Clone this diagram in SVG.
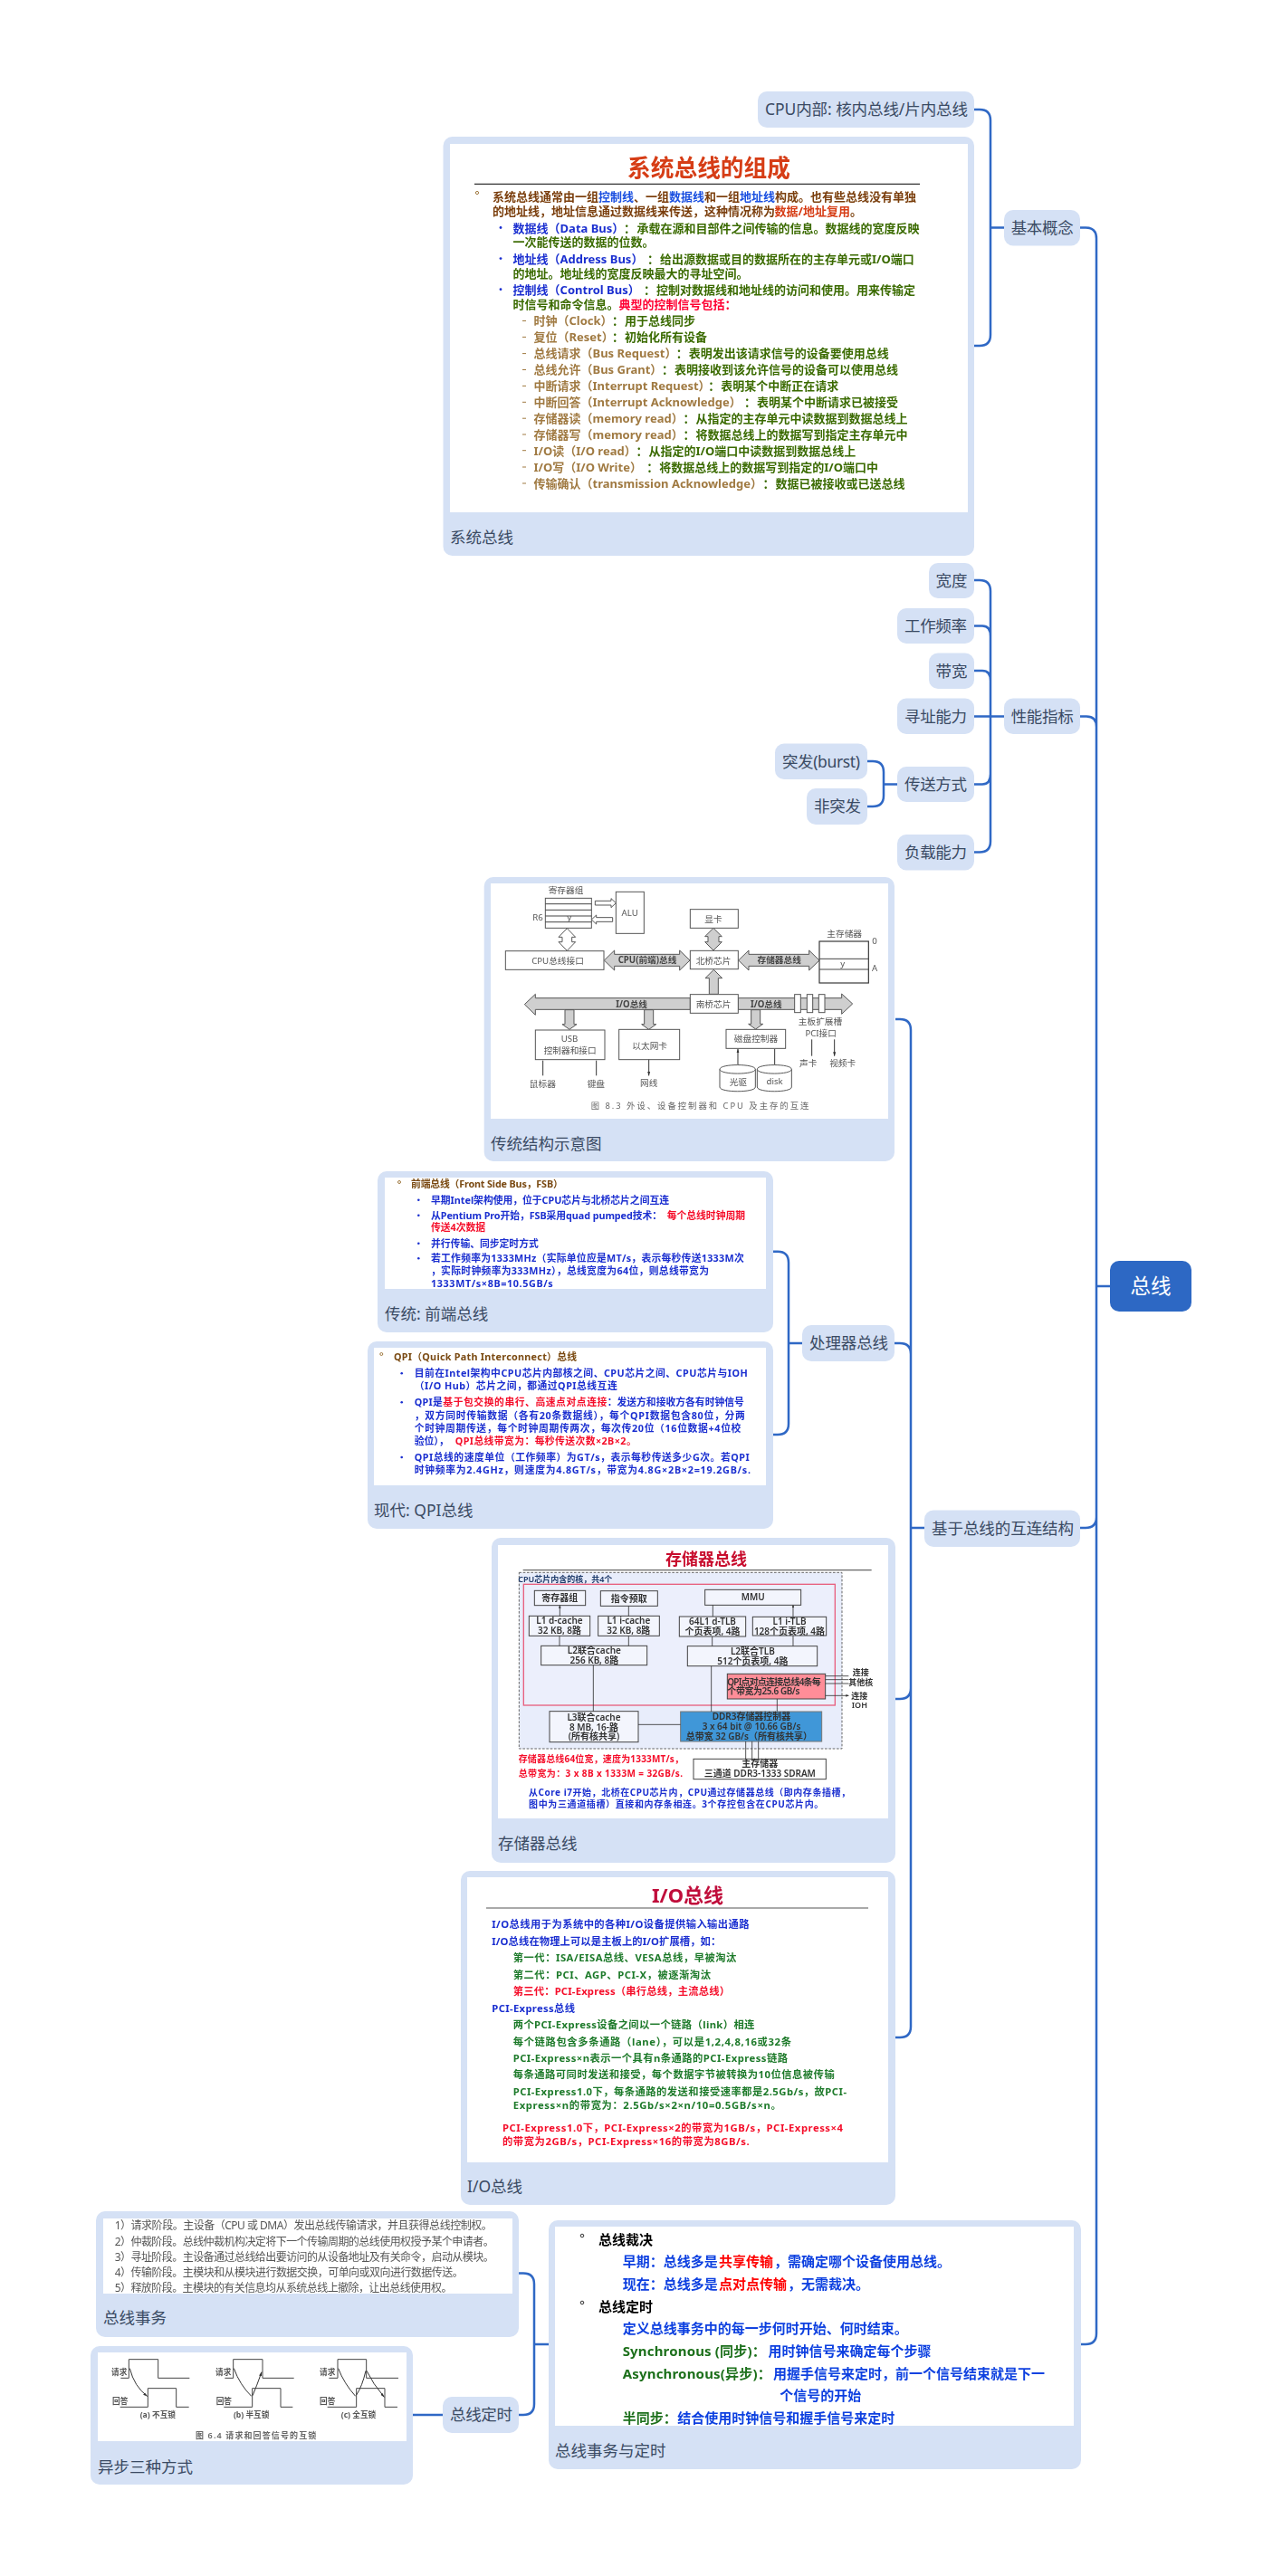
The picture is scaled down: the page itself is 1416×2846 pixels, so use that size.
<svg xmlns="http://www.w3.org/2000/svg" width="1416" height="2846" viewBox="0 0 1416 2846">
<style>
text{font-family:"Noto Sans","Noto Sans CJK SC",sans-serif}
.n{fill:#d5e1f5}
.w{fill:#fff}
.lb{font-size:17.5px;fill:#3a4a63}
.c{fill:none;stroke:#2f68c5;stroke-width:2.5}
.b{font-weight:700}
.s13{font-size:13px;font-weight:700}
.s11{font-size:10.8px;font-weight:700}
.s114{font-size:11.3px;font-weight:700}
.s15{font-size:15px;font-weight:700}
.br{fill:#7a3e0a}.bl{fill:#1a2fd0}.gr{fill:#3a6b00}.tn{fill:#a07a42}.rd{fill:#f5102a}.or{fill:#d63c14}
.ig{fill:#1f7a2a}.ib{fill:#0b3fe0}.ik{fill:#1c6f1a}
.f{fill:#f3f5fd;stroke:#444;stroke-width:3}
.m{font-size:30px;text-anchor:middle;fill:#333;font-weight:600}
.a{stroke:#333;stroke-width:2.5;fill:none;marker-start:url(#ah);marker-end:url(#ah)}
.e{stroke:#333;stroke-width:2.5;fill:none;marker-end:url(#ah)}
.h{fill:#cfcfcf;stroke:#555;stroke-width:3}
.o{fill:#fff;stroke:#555;stroke-width:3}
.p{font-size:29px;text-anchor:middle;fill:#555}
.pb{font-size:29px;text-anchor:middle;fill:#444;font-weight:700}
.ta{fill:#fff;stroke:#555;stroke-width:3}
.d{fill:none;stroke:#444;stroke-width:3}
.dh{fill:none;stroke:#333;stroke-width:3;marker-end:url(#ah2)}
.ds{stroke:#333;stroke-width:3;fill:none;marker-start:url(#ah2);marker-end:url(#ah2)}
.q{font-size:26px;text-anchor:middle;fill:#555;font-weight:700}
.tx{font-size:12px;fill:#555}
</style>
<defs>
<filter id="soft" x="-2%" y="-2%" width="104%" height="104%"><feGaussianBlur stdDeviation="0.3"/></filter>
<marker id="ah" viewBox="0 0 10 10" refX="9" refY="5" markerWidth="4" markerHeight="4" orient="auto-start-reverse"><path d="M0 1L10 5L0 9Z" fill="#333"/></marker>
<marker id="ah2" viewBox="0 0 10 10" refX="9" refY="5" markerWidth="5" markerHeight="5" orient="auto-start-reverse"><path d="M0 2L10 5L0 8Z" fill="#333"/></marker>
</defs>
<rect width="1416" height="2846" fill="#fff"/>

<g id="connectors">
<path class="c" d="M1076 121H1082Q1094 121 1094 133V370Q1094 382 1082 382H1076M1094 251.5H1109"/>
<path class="c" d="M1076 641H1082Q1094 641 1094 653V929.5Q1094 941.5 1082 941.5H1076M1076 691.5H1085Q1094 691.5 1094 703M1076 741H1085Q1094 741 1094 752M1076 791.5H1109M1076 866.5H1085Q1094 866.5 1094 855"/>
<path class="c" d="M958 841H964Q976 841 976 853V879Q976 891 964 891H958M976 866.5H991"/>
<path class="c" d="M1193 251.5H1199Q1211 251.5 1211 263.5V2578Q1211 2590 1199 2590H1193M1193 791.5H1200Q1211 791.5 1211 803M1193 1688H1199Q1211 1688 1211 1676M1211 1421H1226"/>
<path class="c" d="M989 1126H994Q1006 1126 1006 1138V2239Q1006 2251 994 2251H989M988 1484H994Q1006 1484 1006 1496M989 1877H994Q1006 1877 1006 1865M1006 1688H1021"/>
<path class="c" d="M854 1382.7H859Q871 1382.7 871 1395V1573Q871 1585 859 1585H854M871 1484H886"/>
<path class="c" d="M573 2511.5H578Q590 2511.5 590 2523.5V2656Q590 2668 578 2668H573M590 2590H606M456 2668H489"/>
</g>

<g id="node-root"><rect x="1226" y="1393" width="90" height="56" rx="10" fill="#2d68c4"/><text x="1271" y="1429" font-size="22.5" fill="#fff" text-anchor="middle">总线</text></g>

<g id="node-basic"><rect class="n" x="1109" y="232" width="84" height="39.5" rx="10"/><text class="lb" x="1116.7" y="258" textLength="69">基本概念</text></g>
<g id="node-cpu"><rect class="n" x="837" y="101" width="239" height="40" rx="10"/><text class="lb" x="845" y="127" textLength="224">CPU内部: 核内总线/片内总线</text></g>

<g id="node-sysbus">
<rect class="n" x="489.5" y="151" width="586.5" height="463" rx="10"/><rect class="w" x="497" y="159" width="572" height="407"/>
<text class="lb" x="497" y="600">系统总线</text>
<g filter="url(#soft)">
<text x="783" y="195" font-size="25.7" font-weight="700" text-anchor="middle" class="or">系统总线的组成</text>
<path d="M524 203.3H1016" stroke="#333" stroke-width="1.2"/>
<circle cx="527" cy="213" r="1.6" fill="none" stroke="#a07a42"/>
<g fill="#1a2fd0"><circle cx="553" cy="251.5" r="1.4"/><circle cx="553" cy="285.6" r="1.4"/><circle cx="553" cy="319.7" r="1.4"/></g>
<path d="M577 354.5h4M577 372.4h4M577 390.6h4M577 408.5h4M577 426.4h4M577 444.3h4M577 462.2h4M577 480h4M577 497.7h4M577 516h4M577 534h4" stroke="#a07a42" stroke-width="1"/>
<text class="s13 br" x="544" y="221.5">系统总线通常由一组<tspan class="bl" style="fill:#1a4fe0">控制线</tspan>、一组<tspan style="fill:#1a4fe0">数据线</tspan>和一组<tspan style="fill:#1a4fe0">地址线</tspan>构成。也有些总线没有单独</text>
<text class="s13 br" x="544" y="238">的地址线，地址信息通过数据线来传送，这种情况称为<tspan class="or" x="855.6">数据/地址复用</tspan>。</text>
<text class="s13 bl" x="566.6" y="256.5">数据线（Data Bus）<tspan class="gr" x="689">：</tspan><tspan class="gr" x="703.4">承载在源和目部件之间传输的信息。数据线的宽度反映</tspan></text>
<text class="s13 gr" x="566.6" y="272">一次能传送的数据的位数。</text>
<text class="s13 bl" x="566.6" y="290.5">地址线（Address Bus）<tspan class="gr" x="715">：</tspan><tspan class="gr" x="729">给出源数据或目的数据所在的主存单元或I/O端口</tspan></text>
<text class="s13 gr" x="566.6" y="307">的地址。地址线的宽度反映最大的寻址空间。</text>
<text class="s13 bl" x="566.6" y="324.5">控制线（Control Bus）<tspan class="gr" x="711">：</tspan><tspan class="gr" x="725">控制对数据线和地址线的访问和使用。用来传输定</tspan></text>
<text class="s13 gr" x="566.6" y="341">时信号和命令信息。<tspan style="fill:#ff0033" x="683.6">典型的控制信号包括：</tspan></text>
<g class="s13">
<text class="tn" x="589.5" y="359">时钟（Clock）<tspan class="gr" x="676">：</tspan><tspan class="gr" x="690">用于总线同步</tspan></text>
<text class="tn" x="589.5" y="377">复位（Reset）<tspan class="gr" x="676">：</tspan><tspan class="gr" x="690">初始化所有设备</tspan></text>
<text class="tn" x="589.5" y="395">总线请求（Bus Request）<tspan class="gr" x="746.7">：</tspan><tspan class="gr" x="760.7">表明发出该请求信号的设备要使用总线</tspan></text>
<text class="tn" x="589.5" y="413">总线允许（Bus Grant）<tspan class="gr" x="731">：</tspan><tspan class="gr" x="745">表明接收到该允许信号的设备可以使用总线</tspan></text>
<text class="tn" x="589.5" y="431">中断请求（Interrupt Request）<tspan class="gr" x="782.3">：</tspan><tspan class="gr" x="796.3">表明某个中断正在请求</tspan></text>
<text class="tn" x="589.5" y="449">中断回答（Interrupt Acknowledge）<tspan class="gr" x="822">：</tspan><tspan class="gr" x="836">表明某个中断请求已被接受</tspan></text>
<text class="tn" x="589.5" y="467">存储器读（memory read）<tspan class="gr" x="754.6">：</tspan><tspan class="gr" x="768.6">从指定的主存单元中读数据到数据总线上</tspan></text>
<text class="tn" x="589.5" y="485">存储器写（memory read）<tspan class="gr" x="754.6">：</tspan><tspan class="gr" x="768.6">将数据总线上的数据写到指定主存单元中</tspan></text>
<text class="tn" x="589.5" y="502.5">I/O读（I/O read）<tspan class="gr" x="702.5">：</tspan><tspan class="gr" x="716.5">从指定的I/O端口中读数据到数据总线上</tspan></text>
<text class="tn" x="589.5" y="520.5">I/O写（I/O Write）<tspan class="gr" x="714.3">：</tspan><tspan class="gr" x="728.3">将数据总线上的数据写到指定的I/O端口中</tspan></text>
<text class="tn" x="589.5" y="538.5">传输确认（transmission Acknowledge）<tspan class="gr" x="842.4">：</tspan><tspan class="gr" x="856.4">数据已被接收或已送总线</tspan></text>
</g>
</g>
</g>

<g id="node-perf"><rect class="n" x="1109" y="771.5" width="84" height="39.5" rx="10"/><text class="lb" x="1116.7" y="797.5" textLength="69">性能指标</text></g>
<g id="node-width"><rect class="n" x="1026" y="622" width="50" height="39" rx="10"/><text class="lb" x="1033.5" y="647.5" textLength="35">宽度</text></g>
<g id="node-freq"><rect class="n" x="991" y="672" width="85" height="39" rx="10"/><text class="lb" x="999" y="697.5" textLength="69">工作频率</text></g>
<g id="node-band"><rect class="n" x="1026" y="721.5" width="50" height="39.5" rx="10"/><text class="lb" x="1033.5" y="747.5" textLength="35">带宽</text></g>
<g id="node-addr"><rect class="n" x="991" y="771.5" width="85" height="39.5" rx="10"/><text class="lb" x="999" y="797.5" textLength="69">寻址能力</text></g>
<g id="node-mode"><rect class="n" x="991" y="847" width="85" height="39" rx="10"/><text class="lb" x="999" y="872.5" textLength="69">传送方式</text></g>
<g id="node-load"><rect class="n" x="991" y="922" width="85" height="39.5" rx="10"/><text class="lb" x="999" y="948" textLength="69">负载能力</text></g>
<g id="node-burst"><rect class="n" x="856" y="821.5" width="102" height="39.5" rx="10"/><text class="lb" x="864" y="847.5" textLength="86">突发(burst)</text></g>
<g id="node-nonburst"><rect class="n" x="891" y="871" width="67" height="40" rx="10"/><text class="lb" x="899" y="897" textLength="52">非突发</text></g>

<g id="node-interconnect"><rect class="n" x="1021" y="1668.5" width="172" height="40.5" rx="10"/><text class="lb" x="1029" y="1694.5" textLength="157">基于总线的互连结构</text></g>
<g id="node-proc"><rect class="n" x="886" y="1464" width="102" height="40" rx="10"/><text class="lb" x="894" y="1490" textLength="87">处理器总线</text></g>

<g id="node-traditional">
<rect class="n" x="534.7" y="969" width="453.3" height="314" rx="10"/><rect class="w" x="542" y="976" width="439" height="260"/>
<text class="lb" x="542" y="1270">传统结构示意图</text>
<g transform="translate(520 960) scale(.33333)" filter="url(#soft)">
<rect class="o" x="247" y="97" width="153" height="99"/><path class="d" d="M247 116H400M247 136H400M247 156H400M247 176H400"/>
<text class="p" x="315" y="82" font-size="28">寄存器组</text><text class="p" x="222" y="172">R6</text><text class="p" x="326" y="172">y</text>
<rect class="o" x="481" y="76" width="93" height="138"/><text class="p" x="527" y="155">ALU</text>
<path class="o" d="M412 106H465V98L481 113L465 128V120H412ZM470 161H416V153L400 168L416 183V175H470Z"/>
<path class="o" d="M319 197L347 226H335V242H347L319 271L291 242H303V226H291Z"/>
<rect class="o" x="115" y="272" width="326" height="62"/><text class="p" x="288" y="314">CPU总线接口</text>
<path class="h" d="M442 303L476 270V283H692V270L726 303L692 336V322H476V336Z"/><text class="pb" x="585" y="313">CPU(前端)总线</text>
<rect class="o" x="727" y="271" width="159" height="61"/><text class="p" x="804" y="314">北桥芯片</text>
<rect class="o" x="727" y="134" width="159" height="62"/><text class="p" x="804" y="178">显卡</text>
<path class="h" d="M804 196L832 224H822V242H832L804 270L776 242H786V224H776Z"/>
<path class="h" d="M887 303L921 270V283H1121V270L1155 303L1121 336V322H921V336Z"/><text class="pb" x="1022" y="313">存储器总线</text>
<text class="p" x="1238" y="226" font-size="28">主存储器</text>
<rect x="1155" y="240" width="163" height="138" fill="#fff" stroke="#333" stroke-width="3.5"/><path class="d" d="M1155 298H1318M1155 333H1318"/>
<text class="p" x="1232" y="325">y</text><text class="p" x="1338" y="250">0</text><text class="p" x="1338" y="338">A</text>
<path class="h" d="M805 334L833 362H820V415H790V362H777Z"/>
<path class="h" d="M178 449L214 415V428H727V466H214V484ZM886 428H1229V414L1265 447L1229 481V466H886Z"/>
<rect class="o" x="727" y="416" width="159" height="62"/><text class="p" x="804" y="458">南桥芯片</text>
<text class="pb" x="533" y="458">I/O总线</text><text class="pb" x="979" y="458">I/O总线</text>
<rect class="o" x="1073" y="416" width="20" height="60"/><rect class="o" x="1114" y="416" width="19" height="60"/><rect class="o" x="1153" y="416" width="20" height="60"/>
<path class="h" d="M312 467H342V515H351L327 532L303 515H312ZM575 467H605V515H614L590 532L566 515H575ZM929 467H959V514H968L944 531L920 514H929Z"/>
<rect class="o" x="214" y="534" width="230" height="98"/><text class="p" x="327" y="574">USB</text><text class="p" x="329" y="612">控制器和接口</text>
<rect class="o" x="491" y="532" width="201" height="100"/><text class="p" x="593" y="597">以太网卡</text>
<rect class="o" x="846" y="532" width="197" height="63"/><text class="p" x="945" y="574">磁盘控制器</text>
<path class="dh" d="M239 685V635M416 685V635M590 632V685"/>
<path class="ds" d="M885 597V650M1007 597V650M1130 565V620M1205 565V620"/>
<text class="p" x="238" y="722">鼠标器</text><text class="p" x="415" y="722">键盘</text><text class="p" x="590" y="720">网线</text>
<path class="o" d="M825 664V723C825 742 943 742 943 723V664C943 645 825 645 825 664C825 683 943 683 943 664"/>
<path class="o" d="M949 664V723C949 742 1063 742 1063 723V664C1063 645 949 645 949 664C949 683 1063 683 1063 664"/>
<text class="p" x="886" y="716">光驱</text><text class="p" x="1007" y="714">disk</text>
<text class="p" x="1158" y="516">主板扩展槽</text><text class="p" x="1160" y="556">PCI接口</text><text class="p" x="1118" y="654">声卡</text><text class="p" x="1232" y="654">视频卡</text>
<text x="398" y="796" font-size="28" fill="#666" textLength="722">图 8.3   外设、设备控制器和 CPU 及主存的互连</text>
</g>
</g>

<g id="node-fsb">
<rect class="n" x="417" y="1294" width="437" height="178" rx="10"/><rect class="w" x="425" y="1301" width="421" height="123"/>
<text class="lb" x="425" y="1458">传统: 前端总线</text>
<g filter="url(#soft)">
<circle cx="441" cy="1306" r="1.5" fill="none" stroke="#a07a42"/>
<g fill="#1a2fd0"><circle cx="462.3" cy="1325.7" r="1.3"/><circle cx="462.3" cy="1342.7" r="1.3"/><circle cx="462.3" cy="1373.7" r="1.3"/><circle cx="462.3" cy="1390.3" r="1.3"/></g>
<text class="s11" x="454" y="1312" fill="#7a4a12" textLength="167.7">前端总线（Front Side Bus，FSB）</text>
<g class="s11 bl">
<text x="476" y="1329.5" textLength="263">早期Intel架构使用，位于CPU芯片与北桥芯片之间互连</text>
<text x="476" y="1346.5" textLength="255">从Pentium Pro开始，FSB采用quad pumped技术：</text>
<text class="rd" x="736.7" y="1346.5">每个总线时钟周期</text>
<text class="rd" x="476" y="1360">传送4次数据</text>
<text x="476" y="1377.5">并行传输、同步定时方式</text>
<text x="476" y="1394" textLength="345.7">若工作频率为1333MHz（实际单位应是MT/s，表示每秒传送1333M次</text>
<text x="476" y="1408" textLength="307">，实际时钟频率为333MHz），总线宽度为64位，则总线带宽为</text>
<text x="476" y="1421.5" textLength="134.7">1333MT/s×8B=10.5GB/s</text>
</g>
</g>
</g>

<g id="node-qpi">
<rect class="n" x="406" y="1482" width="448" height="207" rx="10"/><rect class="w" x="413" y="1489" width="433" height="152"/>
<text class="lb" x="413" y="1675">现代: QPI总线</text>
<g filter="url(#soft)">
<circle cx="421.3" cy="1496" r="1.5" fill="none" stroke="#a07a42"/>
<g fill="#1a2fd0"><circle cx="443.7" cy="1517.3" r="1.3"/><circle cx="443.7" cy="1549.3" r="1.3"/><circle cx="443.7" cy="1610" r="1.3"/></g>
<text class="s11" x="435" y="1503" fill="#7a4a12" textLength="202">QPI（Quick Path Interconnect）总线</text>
<g class="s11 bl">
<text x="457.7" y="1521" textLength="368">目前在Intel架构中CPU芯片内部核之间、CPU芯片之间、CPU芯片与IOH</text>
<text x="457.7" y="1535" textLength="224">（I/O Hub）芯片之间，都通过QPI总线互连</text>
<text x="457.7" y="1553" textLength="31">QPI是</text><text class="rd" x="489.3" y="1553" textLength="181">基于包交换的串行、高速点对点连接</text><text x="670.7" y="1553">：发送方和接收方各有时钟信号</text>
<text x="457.7" y="1567.5" textLength="365">，双方同时传输数据（各有20条数据线），每个QPI数据包含80位，分两</text>
<text x="457.7" y="1581.5" textLength="360.7">个时钟周期传送，每个时钟周期传两次，每次传20位（16位数据+4位校</text>
<text x="457.7" y="1596">验位），</text><text class="rd" x="502.7" y="1596" textLength="200">QPI总线带宽为：每秒传送次数×2B×2。</text>
<text x="457.7" y="1614" textLength="370">QPI总线的速度单位（工作频率）为GT/s，表示每秒传送多少G次。若QPI</text>
<text x="457.7" y="1628" textLength="371.3">时钟频率为2.4GHz，则速度为4.8GT/s，带宽为4.8G×2B×2=19.2GB/s.</text>
</g>
</g>
</g>

<g id="node-membus">
<rect class="n" x="543" y="1699" width="446" height="359" rx="10"/><rect class="w" x="550" y="1707" width="431" height="302"/>
<text class="lb" x="550" y="2043">存储器总线</text>
<g transform="translate(540 1690) scale(.33333)" filter="url(#soft)">
<text x="720" y="117" font-size="54" font-weight="700" text-anchor="middle" fill="#c8102e">存储器总线</text>
<path d="M113 134H1268" stroke="#666" stroke-width="4"/>
<rect x="100" y="142" width="1070" height="584" fill="#e8edfb" stroke="#666" stroke-width="3" stroke-dasharray="8 5"/>
<text x="97" y="175" font-size="27" font-weight="600" fill="#1f3a6a">CPU芯片内含的核，共4个</text>
<rect x="115" y="181" width="1032" height="401" fill="#eceffc" stroke="#e8607f" stroke-width="4"/>
<rect class="f" x="151" y="202" width="169" height="49" stroke-width="4"/><text class="m" x="235" y="238" font-weight="700">寄存器组</text>
<rect class="f" x="370" y="203" width="189" height="50"/><text class="m" x="464" y="239">指令预取</text>
<rect class="f" x="716" y="199" width="318" height="51"/><text class="m" x="875" y="235">MMU</text>
<rect class="f" x="133" y="286" width="202" height="66"/><text class="m" x="234" y="313">L1 d-cache</text><text class="m" x="234" y="346">32 KB, 8路</text>
<rect class="f" x="362" y="286" width="203" height="66"/><text class="m" x="463" y="313">L1 i-cache</text><text class="m" x="463" y="346">32 KB, 8路</text>
<rect class="f" x="631" y="288" width="220" height="66"/><text class="m" x="741" y="315">64L1 d-TLB</text><text class="m" x="741" y="348">个页表项, 4路</text>
<rect class="f" x="874" y="289" width="244" height="62"/><text class="m" x="996" y="315">L1 i-TLB</text><text class="m" x="996" y="348">128个页表项, 4路</text>
<rect class="f" x="173" y="385" width="351" height="64"/><text class="m" x="349" y="412">L2联合cache</text><text class="m" x="349" y="444">256 KB, 8路</text>
<rect class="f" x="658" y="386" width="430" height="66"/><text class="m" x="874" y="414">L2联合TLB</text><text class="m" x="874" y="447">512个页表项, 4路</text>
<rect x="790" y="478" width="325" height="83" fill="#ff8d98" stroke="#444" stroke-width="3"/><text class="m" x="790" y="515" style="text-anchor:start" textLength="310">QPI点对点连接总线4条每</text><text class="m" x="790" y="547" style="text-anchor:start" textLength="240">个带宽为25.6 GB/s</text>
<rect class="f" x="201" y="602" width="294" height="102"/><text class="m" x="348" y="632">L3联合cache</text><text class="m" x="348" y="665">8 MB, 16-路</text><text class="m" x="348" y="697">(所有核共享)</text>
<rect x="635" y="603" width="468" height="99" fill="#3f97d8" stroke="#777" stroke-width="3"/><text class="m" x="870" y="630">DDR3存储器控制器</text><text class="m" x="870" y="663">3 x 64 bit @ 10.66 GB/s</text><text class="m" x="862" y="695">总带宽 32 GB/s（所有核共享）</text>
<rect x="678" y="760" width="439" height="67" fill="#fff" stroke="#444" stroke-width="3"/><text class="m" x="898" y="787">主存储器</text><text class="m" x="898" y="820">三通道 DDR3-1333 SDRAM</text>
<path class="a" d="M235 251V286M742 250V288M234 352V385M463 352V385M740 354V386M1008 351V386M346 449V602M737 452V603M955 561V603M495 646H635M851 702V760M872 702V760M893 702V760M1115 485H1192M1115 497H1192M1115 510H1192M1115 550H1192"/>
<path class="e" d="M463 286V253M1008 289V250"/>
<text class="m" x="1232" y="482" style="font-size:27px">连接</text><text class="m" x="1232" y="515" style="font-size:27px">其他核</text><text class="m" x="1228" y="560" style="font-size:27px">连接</text><text class="m" x="1228" y="592" style="font-size:27px">IOH</text>
<text x="98" y="770" font-size="30" font-weight="700" class="rd" textLength="547">存储器总线64位宽，速度为1333MT/s，</text>
<text x="98" y="820" font-size="30" font-weight="700" class="rd" textLength="544">总带宽为：3 x 8B x 1333M = 32GB/s.</text>
<text x="132" y="881" font-size="30" font-weight="700" fill="#1a2fd0" textLength="1065">从Core i7开始，北桥在CPU芯片内，CPU通过存储器总线（即内存条插槽，</text>
<text x="132" y="922" font-size="30" font-weight="700" fill="#1a2fd0" textLength="976">图中为三通道插槽）直接和内存条相连。3个存控包含在CPU芯片内。</text>
</g>
</g>

<g id="node-iobus">
<rect class="n" x="509" y="2067" width="480" height="369" rx="10"/><rect class="w" x="516" y="2074" width="465" height="315"/>
<text class="lb" x="516" y="2422">I/O总线</text>
<g filter="url(#soft)">
<text x="759.5" y="2101.7" font-size="22" font-weight="700" text-anchor="middle" fill="#c00d3a">I/O总线</text>
<path d="M537 2108H959" stroke="#555" stroke-width="1.2"/>
<g class="s114">
<text class="bl" x="543.3" y="2130.3" textLength="284.3">I/O总线用于为系统中的各种I/O设备提供输入输出通路</text>
<text class="bl" x="543.3" y="2148.7" textLength="253">I/O总线在物理上可以是主板上的I/O扩展槽，如：</text>
<text class="ig" x="566.7" y="2167.3" textLength="246.7">第一代：ISA/EISA总线、VESA总线，早被淘汰</text>
<text class="ig" x="566.7" y="2185.7" textLength="218.3">第二代：PCI、AGP、PCI-X，被逐渐淘汰</text>
<text class="rd" x="566.7" y="2204" textLength="239.3">第三代：PCI-Express（串行总线，主流总线）</text>
<text class="bl" x="543.3" y="2222.7" textLength="91.7">PCI-Express总线</text>
<text class="ig" x="566.7" y="2241.3" textLength="266.7">两个PCI-Express设备之间以一个链路（link）相连</text>
<text class="ig" x="566.7" y="2259.7" textLength="307.3">每个链路包含多条通路（lane），可以是1,2,4,8,16或32条</text>
<text class="ig" x="566.7" y="2278" textLength="303.3">PCI-Express×n表示一个具有n条通路的PCI-Express链路</text>
<text class="ig" x="566.7" y="2296.3" textLength="355">每条通路可同时发送和接受，每个数据字节被转换为10位信息被传输</text>
<text class="ig" x="566.7" y="2314.7" textLength="368.3">PCI-Express1.0下，每条通路的发送和接受速率都是2.5Gb/s，故PCI-</text>
<text class="ig" x="566.7" y="2330" textLength="296">Express×n的带宽为：2.5Gb/s×2×n/10=0.5GB/s×n。</text>
<text class="rd" x="555" y="2355.3" textLength="376">PCI-Express1.0下，PCI-Express×2的带宽为1GB/s，PCI-Express×4</text>
<text class="rd" x="555" y="2369.7" textLength="272.7">的带宽为2GB/s，PCI-Express×16的带宽为8GB/s.</text>
</g>
</g>
</g>

<g id="node-transtime">
<rect class="n" x="606" y="2453" width="588" height="275" rx="10"/><rect class="w" x="613" y="2460" width="573" height="220"/>
<text class="lb" x="613" y="2714">总线事务与定时</text>
<g filter="url(#soft)">
<circle cx="643" cy="2470" r="1.8" fill="none" stroke="#333"/><circle cx="643" cy="2544" r="1.8" fill="none" stroke="#333"/>
<g class="s15">
<text x="661" y="2479.5" fill="#000">总线裁决</text>
<text class="ib" x="687.7" y="2504">早期：总线多是<tspan style="fill:#f00" x="794">共享传输</tspan><tspan x="855">，需确定哪个设备使用总线。</tspan></text>
<text class="ib" x="687.7" y="2528.7">现在：总线多是<tspan style="fill:#f00" x="794">点对点传输</tspan><tspan x="870">，无需裁决。</tspan></text>
<text x="661" y="2553.5" fill="#000">总线定时</text>
<text class="ib" x="687.7" y="2578">定义总线事务中的每一步何时开始、何时结束。</text>
<text class="ik" x="687.7" y="2602.7" textLength="158">Synchronous (同步)：</text><text class="ib" x="848.6" y="2602.7">用时钟信号来确定每个步骤</text>
<text class="ik" x="687.7" y="2627.5" textLength="164">Asynchronous(异步)：</text><text class="ib" x="854" y="2627.5">用握手信号来定时，前一个信号结束就是下一</text>
<text class="ib" x="861.3" y="2652">个信号的开始</text>
<text class="ik" x="687.7" y="2676.7">半同步：</text><text class="ib" x="748.2" y="2676.7">结合使用时钟信号和握手信号来定时</text>
</g>
</g>
</g>

<g id="node-timing"><rect class="n" x="489" y="2648" width="84" height="40" rx="10"/><text class="lb" x="497" y="2674" textLength="69">总线定时</text></g>

<g id="node-transaction">
<rect class="n" x="106" y="2443" width="467" height="139" rx="10"/><rect class="w" x="114" y="2451" width="452" height="83"/>
<text class="lb" x="114" y="2567">总线事务</text>
<g filter="url(#soft)">
<text class="tx" x="126.7" y="2463" textLength="417">1）请求阶段。主设备（CPU 或 DMA）发出总线传输请求，并且获得总线控制权。</text>
<text class="tx" x="126.7" y="2480.5" textLength="419">2）仲裁阶段。总线仲裁机构决定将下一个传输周期的总线使用权授予某个申请者。</text>
<text class="tx" x="126.7" y="2497.7" textLength="419">3）寻址阶段。主设备通过总线给出要访问的从设备地址及有关命令，启动从模块。</text>
<text class="tx" x="126.7" y="2515" textLength="385">4）传输阶段。主模块和从模块进行数据交换，可单向或双向进行数据传送。</text>
<text class="tx" x="126.7" y="2532.3" textLength="372.7">5）释放阶段。主模块的有关信息均从系统总线上撤除，让出总线使用权。</text>
</g>
</g>

<g id="node-async">
<rect class="n" x="100" y="2592" width="356" height="153" rx="10"/><rect class="w" x="108" y="2599" width="341" height="98"/>
<text class="lb" x="108" y="2732">异步三种方式</text>
<g transform="translate(90 2430) scale(.33333)" filter="url(#soft)">
<path class="d" d="M130 592H157V530H254V592H358M128 688H220V626H314V688H356"/>
<path class="dh" d="M160 560Q175 620 218 652"/>
<path class="d" d="M475 592H503V530H600V592H704M472 688H566V626H660V688H700"/>
<path class="dh" d="M505 560Q525 615 563 652M567 650Q580 620 597 572"/>
<path class="d" d="M820 592H849V530H944V592H1050M815 688H911V626H1005V688H1047"/>
<path class="dh" d="M851 560Q870 610 908 652M911 648Q930 620 942 568M945 568Q965 610 1003 655"/>
<text class="q" x="125" y="582">请求</text><text class="q" x="128" y="677">回答</text><text class="q" x="253" y="723">(a) 不互锁</text>
<text class="q" x="470" y="582">请求</text><text class="q" x="472" y="677">回答</text><text class="q" x="563" y="723">(b) 半互锁</text>
<text class="q" x="815" y="582">请求</text><text class="q" x="815" y="677">回答</text><text class="q" x="918" y="723">(c) 全互锁</text>
<text x="378" y="793" font-size="27" font-weight="600" fill="#666" textLength="400">图 6.4  请求和回答信号的互锁</text>
</g>
</g>
</svg>
